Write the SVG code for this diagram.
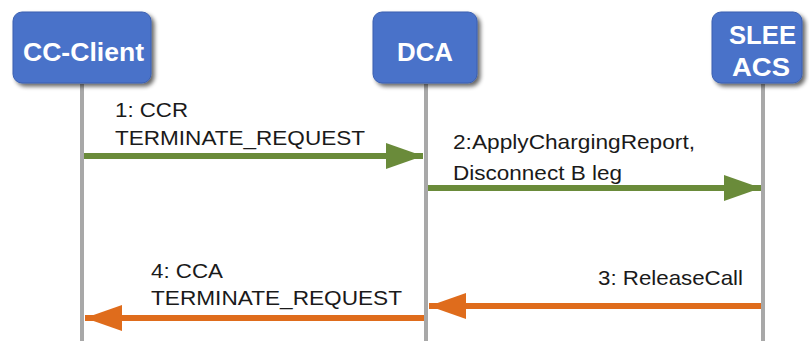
<svg xmlns="http://www.w3.org/2000/svg" width="809" height="341" viewBox="0 0 809 341">
<defs>
<filter id="sh" x="-10%" y="-10%" width="130%" height="140%">
<feGaussianBlur in="SourceAlpha" stdDeviation="2"/>
<feOffset dx="3" dy="3" result="b"/>
<feComponentTransfer><feFuncA type="linear" slope="0.6"/></feComponentTransfer>
<feMerge><feMergeNode/><feMergeNode in="SourceGraphic"/></feMerge>
</filter>
<marker id="ag" markerUnits="userSpaceOnUse" markerWidth="38" markerHeight="26" refX="37" refY="13" orient="auto"><path d="M0,0 L37,13 L0,26 Z" fill="#6a8b3a"/></marker>
<marker id="ao" markerUnits="userSpaceOnUse" markerWidth="38" markerHeight="26" refX="37" refY="13" orient="auto"><path d="M0,0 L37,13 L0,26 Z" fill="#df6c1c"/></marker>
</defs>
<style>
.box{fill:#4a72c9;stroke:#3a5fb0;stroke-width:1}
.bt{font-family:"Liberation Sans",Arial,sans-serif;font-weight:bold;font-size:26px;fill:#fff}
.life{stroke:#a8a8a8;stroke-width:4}
.lbl{font-family:"Liberation Sans",Arial,sans-serif;font-size:21px;fill:#1a1a1a}
.g{stroke:#6a8b3a;stroke-width:6;fill:none;marker-end:url(#ag)}
.o{stroke:#df6c1c;stroke-width:6;fill:none;marker-end:url(#ao)}
</style>
<rect width="809" height="341" fill="#fff"/>
<g id="lifelines">
<line class="life" x1="82" y1="84" x2="82" y2="341"/>
<line class="life" x1="426" y1="84" x2="426" y2="341"/>
<line class="life" x1="763" y1="84" x2="763" y2="341"/>
</g>
<g id="node-cc-client">
<rect class="box" x="13" y="12" width="138" height="71" rx="9" filter="url(#sh)"/>
<text class="bt" x="23" y="61" textLength="121" lengthAdjust="spacingAndGlyphs">CC-Client</text>
</g>
<g id="node-dca">
<rect class="box" x="373" y="12" width="104" height="71" rx="9" filter="url(#sh)"/>
<text class="bt" x="397" y="61" textLength="56" lengthAdjust="spacingAndGlyphs">DCA</text>
</g>
<g id="node-slee-acs">
<rect class="box" x="712" y="12" width="90" height="71" rx="9" filter="url(#sh)"/>
<text class="bt" x="729" y="44" textLength="67" lengthAdjust="spacingAndGlyphs">SLEE</text>
<text class="bt" x="732" y="76" textLength="58" lengthAdjust="spacingAndGlyphs">ACS</text>
</g>
<g id="connectors">
<line class="g" x1="84" y1="156" x2="423" y2="156"/>
<line class="g" x1="428" y1="188" x2="761" y2="188"/>
<line class="o" x1="761" y1="306" x2="429" y2="306"/>
<line class="o" x1="424" y1="318" x2="85" y2="318"/>
</g>
<g id="labels">
<text class="lbl" x="115" y="117" textLength="73" lengthAdjust="spacingAndGlyphs">1: CCR</text>
<text class="lbl" x="115" y="145" textLength="250" lengthAdjust="spacingAndGlyphs">TERMINATE_REQUEST</text>
<text class="lbl" x="453" y="149" textLength="242" lengthAdjust="spacingAndGlyphs">2:ApplyChargingReport,</text>
<text class="lbl" x="453" y="180" textLength="169" lengthAdjust="spacingAndGlyphs">Disconnect B leg</text>
<text class="lbl" x="598" y="285" textLength="145" lengthAdjust="spacingAndGlyphs">3: ReleaseCall</text>
<text class="lbl" x="151" y="278" textLength="72" lengthAdjust="spacingAndGlyphs">4: CCA</text>
<text class="lbl" x="151" y="305" textLength="251" lengthAdjust="spacingAndGlyphs">TERMINATE_REQUEST</text>
</g>
</svg>
